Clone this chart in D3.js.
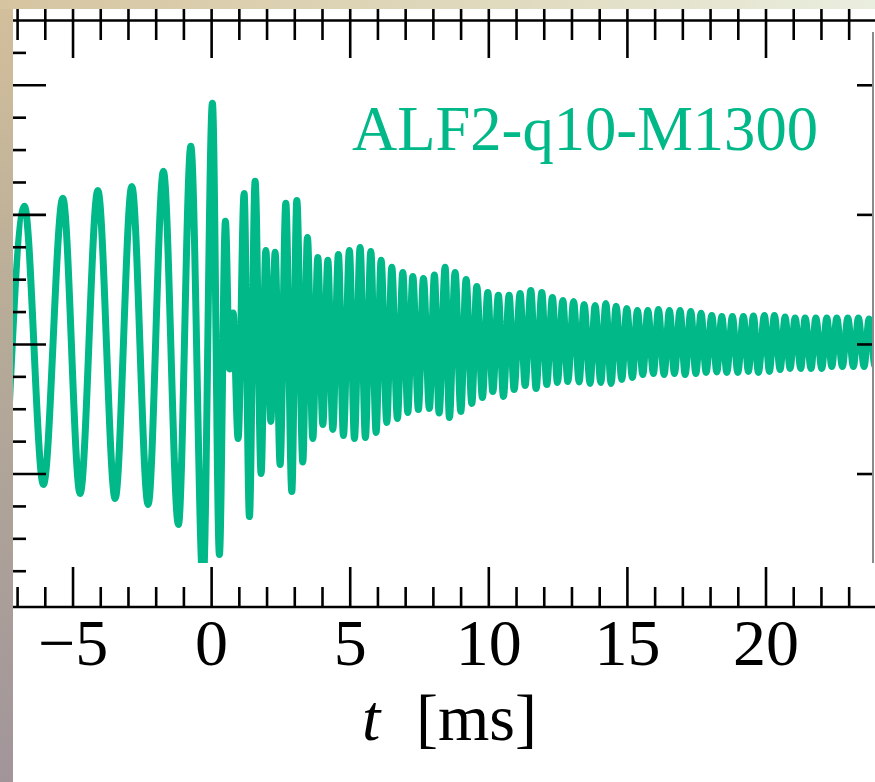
<!DOCTYPE html>
<html><head><meta charset="utf-8">
<script src="https://cdn.jsdelivr.net/npm/d3@7"></script>
<style>html,body{margin:0;padding:0;background:#fff;overflow:hidden}</style>
</head><body>
<script>
// ---- data ----
const tMs = [-7.40,-6.735,-6.050,-5.350,-4.726,-4.087,-3.463,-2.861,-2.273,-1.721,-1.180,-0.732,-0.289,0.047,0.299,0.516,0.667,0.794,0.974,1.190,1.382,1.587,1.804,1.973,2.154,2.309,2.489,2.695,2.911,3.092,3.308,3.474,3.669,3.849,4.030,4.210,4.390,4.592,4.773,4.989,5.170,5.375,5.566,5.761,5.952,6.133,6.338,6.519,6.721,6.916,7.096,7.276,7.478,7.659,7.875,8.056,8.225,8.442,8.597,8.802,9.008,9.199,9.405,9.585,9.787,9.982,10.162,10.364,10.545,10.750,10.931,11.147,11.328,11.533,11.724,11.930,12.110,12.312,12.493,12.688,12.868,13.077,13.276,13.456,13.672,13.853,14.058,14.239,14.430,14.610,14.816,14.996,15.198,15.379,15.574,15.754,15.956,16.136,16.342,16.533,16.714,16.919,17.100,17.305,17.486,17.677,17.857,18.063,18.243,18.424,18.604,18.806,19.001,19.203,19.383,19.564,19.744,19.960,20.141,20.321,20.527,20.707,20.887,21.068,21.273,21.429,21.645,21.815,22.031,22.211,22.392,22.572,22.774,22.969,23.171,23.351,23.557,23.737,23.954,24.134];
const strain = [-1.035,1.062,-1.085,1.124,-1.154,1.185,-1.193,1.216,-1.239,1.332,-1.394,1.525,-1.861,1.857,-1.625,0.946,-0.193,0.239,-0.730,1.162,-1.332,1.255,-1.000,0.722,-0.598,0.707,-0.931,1.085,-1.139,1.108,-0.911,0.822,-0.730,0.668,-0.622,0.645,-0.660,0.691,-0.707,0.722,-0.730,0.745,-0.722,0.714,-0.683,0.645,-0.606,0.591,-0.575,0.552,-0.529,0.521,-0.506,0.506,-0.498,0.533,-0.533,0.591,-0.568,0.552,-0.521,0.498,-0.459,0.444,-0.413,0.398,-0.367,0.375,-0.405,0.375,-0.351,0.390,-0.320,0.413,-0.344,0.398,-0.313,0.359,-0.297,0.336,-0.290,0.328,-0.293,0.305,-0.305,0.297,-0.297,0.313,-0.305,0.290,-0.274,0.274,-0.259,0.259,-0.236,0.259,-0.228,0.266,-0.236,0.259,-0.228,0.259,-0.236,0.251,-0.228,0.236,-0.220,0.220,-0.216,0.212,-0.220,0.212,-0.220,0.212,-0.212,0.216,-0.220,0.220,-0.212,0.220,-0.197,0.208,-0.189,0.201,-0.189,0.201,-0.189,0.201,-0.189,0.201,-0.174,0.201,-0.174,0.201,-0.174,0.201,-0.174,0.193,-0.170,0.185];
const majorTicksX = [-5, 0, 5, 10, 15, 20];
const tickLabelsX = ["\u22125", "0", "5", "10", "15", "20"];
const minorTicksX = [-7,-6,-4,-3,-2,-1,1,2,3,4,6,7,8,9,11,12,13,14,16,17,18,19,21,22,23];
const majorTicksY = [-1, 0, 1, 2];
const minorTicksY = [-1.75,-1.5,-1.25,-0.75,-0.5,-0.25,0.25,0.5,0.75,1.25,1.5,1.75,2.25];
const runLabel = "ALF2-q10-M1300";
const xTitle = ["t", "[ms]"];

// ---- drawing ----
const W = 875, H = 782;
const green = "#00b888";
const serif = "'Liberation Serif','DejaVu Serif',serif";
const svg = d3.select("body").append("svg").attr("width", W).attr("height", H);
const defs = svg.append("defs");

const gL = defs.append("linearGradient").attr("id","gl").attr("x1",0).attr("y1",0).attr("x2",0).attr("y2",1);
gL.append("stop").attr("offset","0%").attr("stop-color","#d3bf9b");
gL.append("stop").attr("offset","45%").attr("stop-color","#b5aa98");
gL.append("stop").attr("offset","100%").attr("stop-color","#a1959a");
const gT = defs.append("linearGradient").attr("id","gt").attr("x1",0).attr("y1",0).attr("x2",1).attr("y2",0);
gT.append("stop").attr("offset","0%").attr("stop-color","#d6c4a0");
gT.append("stop").attr("offset","60%").attr("stop-color","#e0dbc0");
gT.append("stop").attr("offset","100%").attr("stop-color","#eaeedf");

defs.append("clipPath").attr("id","plotclip").append("rect")
  .attr("x", 6).attr("y", 20).attr("width", 866).attr("height", 543);

svg.append("rect").attr("width", W).attr("height", H).attr("fill", "#fff");

const x = d3.scaleLinear().domain([-7.4, 23.86]).range([6, 872.5]);
const y = d3.scaleLinear().domain([-2.03, 2.5]).range([607, 20]);

const pts = tMs.map((t, i) => [t, strain[i]]);
const line = d3.line().x(d => x(d[0])).y(d => y(d[1])).curve(d3.curveMonotoneX);
svg.append("path").datum(pts).attr("clip-path", "url(#plotclip)")
  .attr("d", line).attr("fill", "none").attr("stroke", green)
  .attr("stroke-width", 7).attr("stroke-linejoin", "round").attr("stroke-linecap", "round");

function styleAxis(g) {
  g.select(".domain").remove();
  g.selectAll(".tick line").attr("stroke", "#000").attr("stroke-width", 2.6);
}

// bottom axis
svg.append("g").attr("transform", "translate(0,607)")
  .call(d3.axisBottom(x).tickValues(minorTicksX).tickSize(-20).tickSizeOuter(0).tickFormat(""))
  .call(styleAxis);
const bMaj = svg.append("g").attr("transform", "translate(0,607)")
  .call(d3.axisBottom(x).tickValues(majorTicksX).tickSize(-40).tickSizeOuter(0)
    .tickFormat((d, i) => tickLabelsX[i]))
  .call(styleAxis);
bMaj.selectAll(".tick text").attr("y", 58).attr("dy", null)
  .attr("font-family", serif).attr("font-size", 66).attr("fill", "#000");

// top axis (ticks inward and ticks of the panel above)
const allX = majorTicksX.concat(minorTicksX);
svg.append("g").attr("transform", "translate(0,20)")
  .call(d3.axisTop(x).tickValues(minorTicksX).tickSize(-20).tickSizeOuter(0).tickFormat(""))
  .call(styleAxis);
svg.append("g").attr("transform", "translate(0,20)")
  .call(d3.axisTop(x).tickValues(majorTicksX).tickSize(-38).tickSizeOuter(0).tickFormat(""))
  .call(styleAxis);
svg.append("g").attr("transform", "translate(0,20)")
  .call(d3.axisTop(x).tickValues(allX).tickSize(14).tickSizeOuter(0).tickFormat(""))
  .call(styleAxis);

// left axis
svg.append("g").attr("transform", "translate(6,0)")
  .call(d3.axisLeft(y).tickValues(majorTicksY).tickSize(-40).tickSizeOuter(0).tickFormat(""))
  .call(styleAxis);
svg.append("g").attr("transform", "translate(6,0)")
  .call(d3.axisLeft(y).tickValues(minorTicksY).tickSize(-20).tickSizeOuter(0).tickFormat(""))
  .call(styleAxis);

// right axis
svg.append("g").attr("transform", "translate(873,0)")
  .call(d3.axisRight(y).tickValues(majorTicksY).tickSize(-16).tickSizeOuter(0).tickFormat(""))
  .call(styleAxis);

// spines
svg.append("line").attr("x1", 0).attr("x2", W).attr("y1", 607).attr("y2", 607)
  .attr("stroke", "#000").attr("stroke-width", 2.6);
svg.append("line").attr("x1", 0).attr("x2", W).attr("y1", 20.5).attr("y2", 20.5)
  .attr("stroke", "#000").attr("stroke-width", 2.6);
svg.append("line").attr("x1", 873).attr("x2", 873).attr("y1", 32).attr("y2", 563)
  .attr("stroke", "#8a8a8a").attr("stroke-width", 2);

// run label
svg.append("text").attr("x", 818).attr("y", 150).attr("text-anchor", "end")
  .attr("font-family", serif).attr("font-size", 64).attr("fill", green)
  .attr("textLength", 466).attr("lengthAdjust", "spacingAndGlyphs")
  .text(runLabel);

// x-axis title
const tt = svg.append("text").attr("y", 740).attr("font-family", serif)
  .attr("font-size", 66).attr("fill", "#000");
tt.append("tspan").attr("x", 362).attr("font-style", "italic").text(xTitle[0]);
tt.append("tspan").attr("x", 416).text(xTitle[1]);

// frame pieces of the surrounding picture
svg.append("rect").attr("x", 0).attr("y", 0).attr("width", 13).attr("height", H).attr("fill", "url(#gl)");
svg.append("rect").attr("x", 0).attr("y", 0).attr("width", W).attr("height", 9).attr("fill", "url(#gt)");
</script>
</body></html>
